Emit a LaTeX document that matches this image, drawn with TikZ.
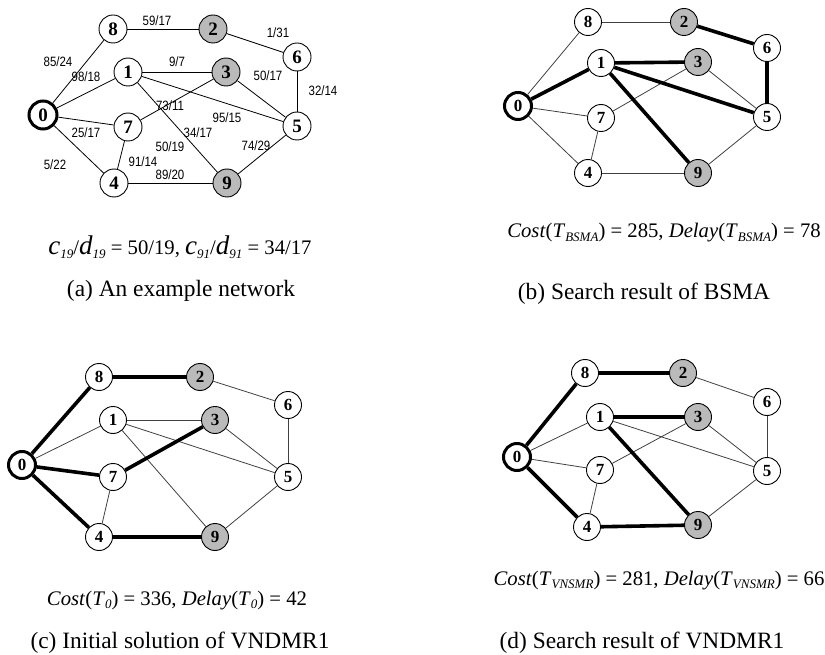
\documentclass[tikz,border=0pt]{standalone}
\usepackage{fontspec}
\setmainfont{Liberation Serif}
\newfontfamily\lblfont[FakeStretch=0.85]{Liberation Sans}
\newcommand\lowsub[1]{\raisebox{-0.35ex}{\fontsize{13}{13}\selectfont\itshape #1}}

\tikzset{
  vtx/.style={circle, draw=black, line width=0.9pt, fill=white, minimum size=27pt,
              inner sep=0pt, font=\fontsize{17}{17}\selectfont\bfseries},
  bigvtx/.style={vtx, minimum size=28pt, font=\fontsize{19}{19}\selectfont\bfseries},
  dest/.style={fill=black!27},
  src/.style={line width=3pt},
  plain edge/.style={line width=0.8pt, draw=black!75},
  tree edge/.style={line width=3.6pt, draw=black},
  wlabel/.style={font=\lblfont\fontsize{13.5}{13.5}\selectfont, inner sep=0pt},
  formula/.style={anchor=base, inner sep=0pt, font=\fontsize{20.7}{20.7}\selectfont},
  caption/.style={anchor=base, inner sep=0pt, font=\fontsize{23.4}{23.4}\selectfont}
}

\begin{document}
\begin{tikzpicture}[x=1pt, y=-1pt]
\useasboundingbox (0,0) rectangle (825,655);

% ---------- (a) the example network with edge weights ----------
\node[bigvtx,src]  (a0) at (43,115)  {0};
\node[bigvtx]      (a8) at (113,29)  {8};
\node[bigvtx,dest] (a2) at (213,29)  {2};
\node[bigvtx]      (a6) at (297,57)  {6};
\node[bigvtx]      (a1) at (128,72)  {1};
\node[bigvtx,dest] (a3) at (226,72)  {3};
\node[bigvtx]      (a7) at (128,127) {7};
\node[bigvtx]      (a5) at (297,126) {5};
\node[bigvtx]      (a4) at (114,183) {4};
\node[bigvtx,dest] (a9) at (227,183) {9};
\foreach \u/\v in {0/8,8/2,2/6,0/1,1/3,3/5,6/5,1/5,1/9,0/7,7/3,0/4,7/4,4/9,9/5}
  \draw[line width=0.8pt] (a\u) -- (a\v);

\node[wlabel] (w82) at (157,21)  {59/17};
\node[wlabel] (w08) at (58,62)   {85/24};
\node[wlabel] (w01) at (86,77)   {98/18};
\node[wlabel] (w13) at (177,62)  {9/7};
\node[wlabel] (w26) at (278,33)  {1/31};
\node[wlabel] (w35) at (268,76)  {50/17};
\node[wlabel] (w65) at (323,91)  {32/14};
\node[wlabel] (w73) at (170,106) {73/11};
\node[wlabel] (w15) at (227,118) {95/15};
\node[wlabel] (w07) at (86,133)  {25/17};
\node[wlabel] (w91) at (198,133) {34/17};
\node[wlabel] (w19) at (170,147) {50/19};
\node[wlabel] (w95) at (256,146) {74/29};
\node[wlabel] (w74) at (143,162) {91/14};
\node[wlabel] (w04) at (55,165)  {5/22};
\node[wlabel] (w49) at (170,175) {89/20};

\node[formula] (fa) at (180,255)
  {{\fontsize{27}{27}\selectfont\itshape c}\lowsub{19}/{\fontsize{27}{27}\selectfont\itshape d}\lowsub{19} = 50/19,
   {\fontsize{27}{27}\selectfont\itshape c}\lowsub{91}/{\fontsize{27}{27}\selectfont\itshape d}\lowsub{91} = 34/17};
\node[caption] (ca) at (181,297) {(a) An example network};

% ---------- (b) tree found by BSMA ----------
\node[vtx,src]  (b0) at (518,106) {0};
\node[vtx]      (b8) at (588,22)  {8};
\node[vtx,dest] (b2) at (684,22)  {2};
\node[vtx]      (b6) at (767,48)  {6};
\node[vtx]      (b1) at (601,63)  {1};
\node[vtx,dest] (b3) at (698,62)  {3};
\node[vtx]      (b7) at (601,118) {7};
\node[vtx]      (b5) at (767,117) {5};
\node[vtx]      (b4) at (588,173) {4};
\node[vtx,dest] (b9) at (698,173) {9};
\foreach \u/\v in {0/8,8/2,3/5,0/7,7/3,0/4,7/4,4/9,9/5}
  \draw[plain edge] (b\u) -- (b\v);
\foreach \u/\v in {0/1,1/3,1/5,1/9,2/6,6/5}
  \draw[tree edge] (b\u) -- (b\v);

\node[formula] (fb) at (664,238)
  {\textit{Cost}(\textit{T}\lowsub{BSMA}) = 285, \textit{Delay}(\textit{T}\lowsub{BSMA}) = 78};
\node[caption] (cb) at (644,300) {(b) Search result of BSMA};

% ---------- (c) initial solution of VNDMR1 ----------
\node[vtx,src]  (c0) at (22,465)  {0};
\node[vtx]      (c8) at (99,377)  {8};
\node[vtx,dest] (c2) at (200,377) {2};
\node[vtx]      (c6) at (288,405) {6};
\node[vtx]      (c1) at (113,420) {1};
\node[vtx,dest] (c3) at (215,420) {3};
\node[vtx]      (c7) at (113,477) {7};
\node[vtx]      (c5) at (288,477) {5};
\node[vtx]      (c4) at (99,537)  {4};
\node[vtx,dest] (c9) at (215,537) {9};
\foreach \u/\v in {2/6,0/1,1/3,3/5,6/5,1/5,1/9,7/4,9/5}
  \draw[plain edge] (c\u) -- (c\v);
\foreach \u/\v in {0/8,8/2,0/7,7/3,0/4,4/9}
  \draw[tree edge] (c\u) -- (c\v);

\node[formula] (fc) at (177,605)
  {\textit{Cost}(\textit{T}\lowsub{0}) = 336, \textit{Delay}(\textit{T}\lowsub{0}) = 42};
\node[caption] (cc) at (180,648) {(c) Initial solution of VNDMR1};

% ---------- (d) tree found by VNDMR1 ----------
\node[vtx,src]  (d0) at (517,457) {0};
\node[vtx]      (d8) at (585,373) {8};
\node[vtx,dest] (d2) at (683,373) {2};
\node[vtx]      (d6) at (767,402) {6};
\node[vtx]      (d1) at (600,417) {1};
\node[vtx,dest] (d3) at (698,417) {3};
\node[vtx]      (d7) at (600,470) {7};
\node[vtx]      (d5) at (767,471) {5};
\node[vtx]      (d4) at (587,527) {4};
\node[vtx,dest] (d9) at (698,525) {9};
\foreach \u/\v in {2/6,0/1,3/5,6/5,1/5,0/7,7/3,7/4,9/5}
  \draw[plain edge] (d\u) -- (d\v);
\foreach \u/\v in {0/8,8/2,1/3,1/9,0/4,4/9}
  \draw[tree edge] (d\u) -- (d\v);

\node[formula] (fd) at (659,585)
  {\textit{Cost}(\textit{T}\lowsub{VNSMR}) = 281, \textit{Delay}(\textit{T}\lowsub{VNSMR}) = 66};
\node[caption] (cd) at (642,648) {(d) Search result of VNDMR1};
\end{tikzpicture}
\end{document}
